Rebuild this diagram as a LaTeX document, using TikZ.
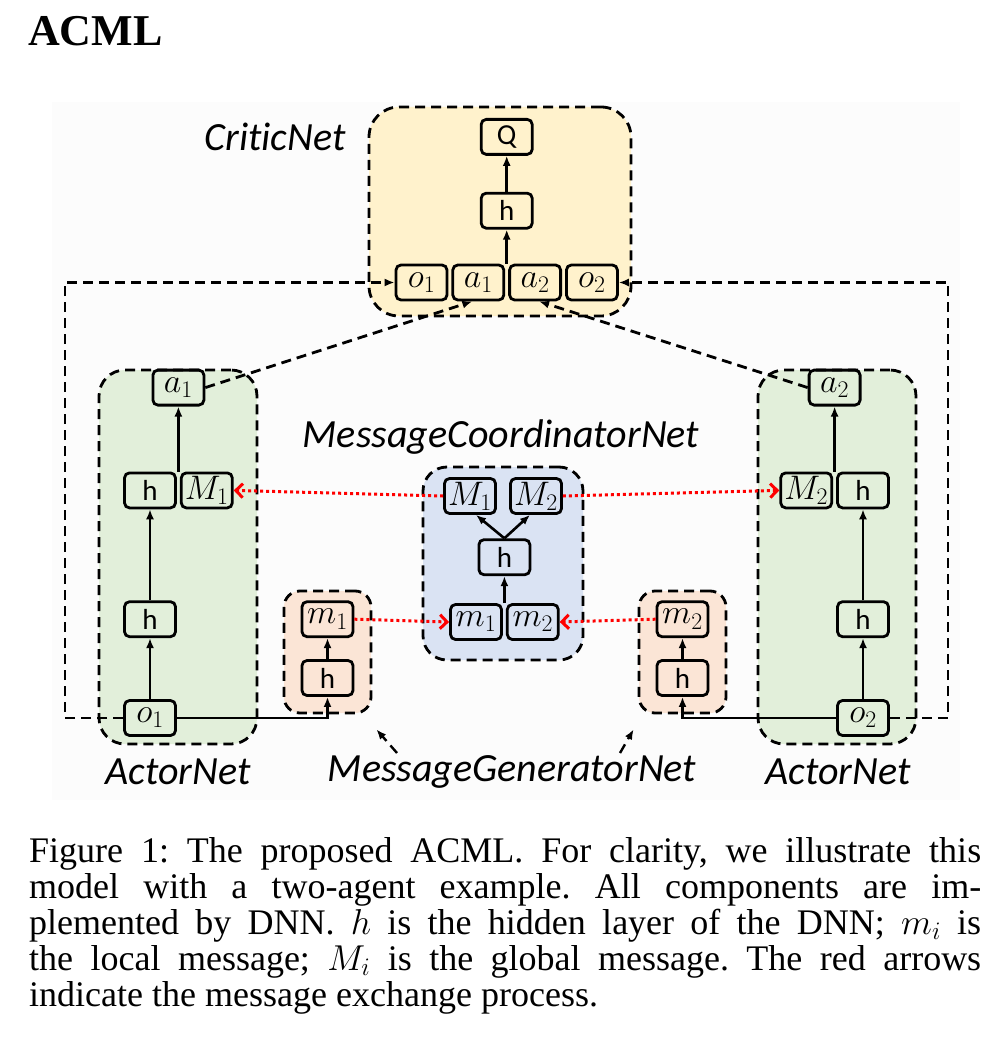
\RequirePackage{fix-cm}
\documentclass[tikz,border=0pt]{standalone}
\usepackage{fontspec}
\setmainfont{Liberation Serif}
\newfontfamily\netfont{Carlito}[Ligatures=NoCommon]
\usetikzlibrary{positioning, arrows.meta, calc}

\definecolor{criticfill}{RGB}{255,242,204}
\definecolor{actorfill}{RGB}{226,239,218}
\definecolor{genfill}{RGB}{251,229,214}
\definecolor{coordfill}{RGB}{218,227,243}

\begin{document}
\begin{tikzpicture}[
        x=1pt, y=-1pt,
        node distance=3pt and 3pt,
        >={Latex[length=10pt,width=8pt]},
        % Styles for the network parts
        unit/.style={rectangle, draw, line width=2.8pt, rounded corners=5pt, minimum width=51pt,
                minimum height=35pt, inner sep=0pt, font=\fontsize{29}{30}\selectfont\netfont},
        mathunit/.style={unit, font=\fontsize{34}{34}\selectfont},
        net/.style={rectangle, draw, dash pattern=on 10pt off 6pt, line width=2.8pt,
                rounded corners=26pt, inner sep=0pt},
        netlabel/.style={font=\fontsize{40}{40}\selectfont\netfont\itshape, inner sep=0pt},
        arrow/.style={->, line width=2.6pt},
        link/.style={->, line width=2.8pt, dash pattern=on 10pt off 6pt},
        msg/.style={-{Straight Barb[length=7pt,width=14pt]}, red, line width=3pt,
                dash pattern=on 3pt off 3pt},
    ]

    \useasboundingbox (0,0) rectangle (996,1048);
    \fill[black!1] (52,102) rectangle (960,800);

    % === TITLE ===
    \node[anchor=base west, inner sep=0pt, font=\fontsize{44}{44}\selectfont\bfseries] (title) at (28,46) {ACML};

    % === CONTAINERS ===
    \node[net, fill=criticfill, minimum width=262pt, minimum height=209pt, rounded corners=30pt] (critic) at (500,211.5) {};
    \node[net, fill=actorfill, minimum width=158pt, minimum height=374pt] (actor1) at (178,557) {};
    \node[net, fill=actorfill, minimum width=158pt, minimum height=374pt] (actor2) at (837,557) {};
    \node[net, fill=genfill, minimum width=87pt, minimum height=122pt, rounded corners=16pt] (gen1) at (327.5,652) {};
    \node[net, fill=genfill, minimum width=87pt, minimum height=122pt, rounded corners=16pt] (gen2) at (682.5,652) {};
    \node[net, fill=coordfill, minimum width=160pt, minimum height=193pt, rounded corners=24pt] (coord) at (503,563.5) {};

    % === CRITIC ===
    \node[mathunit] (co1) at (421.5,282.5) {$o_1$};
    \node[mathunit, right=of co1] (ca1) {$a_1$};
    \node[mathunit, right=of ca1] (ca2) {$a_2$};
    \node[mathunit, right=of ca2] (co2) {$o_2$};
    \coordinate (cjoin) at ($(ca1.north east)!.5!(ca2.north west)$);
    \node[unit, above=34pt of cjoin] (ch) {h};
    \node[unit, above=36pt of ch] (cq) {Q};

    % === ACTOR 1 ===
    \node[mathunit] (ao1) at (150,718) {$o_1$};
    \node[unit, above=61pt of ao1] (ah2) {h};
    \node[unit, above=91pt of ah2] (ah1) {h};
    \node[mathunit, right=of ah1] (aM1) {$M_1$};
    \coordinate (ajoin) at ($(ah1.north east)!.5!(aM1.north west)$);
    \node[mathunit, above=65pt of ajoin] (aa1) {$a_1$};

    % === ACTOR 2 ===
    \node[mathunit] (bo2) at (863,718) {$o_2$};
    \node[unit, above=61pt of bo2] (bh2) {h};
    \node[unit, above=91pt of bh2] (bh1) {h};
    \node[mathunit, left=of bh1] (bM2) {$M_2$};
    \coordinate (bjoin) at ($(bM2.north east)!.5!(bh1.north west)$);
    \node[mathunit, above=65pt of bjoin] (ba2) {$a_2$};

    % === MESSAGE GENERATORS ===
    \node[unit] (gh1) at (327.5,678) {h};
    \node[mathunit, above=21pt of gh1] (gm1) {$m_1$};
    \node[unit] (gh2) at (682.5,678) {h};
    \node[mathunit, above=21pt of gh2] (gm2) {$m_2$};

    % === MESSAGE COORDINATOR ===
    \node[mathunit] (mm1) at (476,622) {$m_1$};
    \node[mathunit, right=of mm1] (mm2) {$m_2$};
    \coordinate (mjoin) at ($(mm1.north east)!.5!(mm2.north west)$);
    \node[unit, above=27pt of mjoin] (mh) {h};
    \node[mathunit] (mM1) at (470,496) {$M_1$};
    \node[mathunit] (mM2) at (536,496) {$M_2$};

    % === LABELS ===
    \node[netlabel] (criticlab) at (275,137) {CriticNet};
    \node[netlabel] (coordlab) at (501,437) {MessageCoordinatorNet};
    \node[netlabel] (actorlab1) at (178,772) {ActorNet};
    \node[netlabel] (genlab) at (512,772) {MessageGeneratorNet};
    \node[netlabel] (actorlab2) at (838,772) {ActorNet};
    \coordinate (gtail1) at (397,753);
    \coordinate (gtail2) at (620,753);

    % === CONNECTIONS ===
    % inside the critic
    \draw[arrow] (cjoin) -- (ch.south);
    \draw[arrow] (ch.north) -- (cq.south);
    % inside the actors
    \draw[arrow] (ao1.north) -- (ah2.south);
    \draw[arrow] (ah2.north) -- (ah1.south);
    \draw[arrow] (ajoin) -- (aa1.south);
    \draw[arrow] (bo2.north) -- (bh2.south);
    \draw[arrow] (bh2.north) -- (bh1.south);
    \draw[arrow] (bjoin) -- (ba2.south);
    % observations to the message generators
    \draw[arrow] (ao1.east) -| (gh1.south);
    \draw[arrow] (bo2.west) -| (gh2.south);
    \draw[arrow] (gh1.north) -- (gm1.south);
    \draw[arrow] (gh2.north) -- (gm2.south);
    % inside the coordinator
    \draw[arrow] (mjoin) -- (mh.south);
    \draw[arrow] (mh.north) -- ([xshift=6pt]mM1.south);
    \draw[arrow] (mh.north) -- ([xshift=-6pt]mM2.south);

    % observations and actions into the critic
    \coordinate (loopL) at (65,282.5);
    \coordinate (loopR) at (948,282.5);
    \draw[link] (ao1.west) -| (loopL) -- (co1.west);
    \draw[link] (bo2.east) -| (loopR) -- (co2.east);
    \draw[link] (aa1.east) -- ([xshift=-6pt]ca1.south);
    \draw[link] (ba2.west) -- ([xshift=4pt]ca2.south);

    % message exchange (red)
    \draw[msg] (gm1.east) -- (mm1.west);
    \draw[msg] (gm2.west) -- (mm2.east);
    \draw[msg] (mM1.west) -- (aM1.east);
    \draw[msg] (mM2.east) -- (bM2.west);

    % pointers from the label
    \draw[link, line width=2.4pt] (gtail1) -- ($(gen1.south east)+(4,15)$);
    \draw[link, line width=2.4pt] (gtail2) -- ($(gen2.south west)+(-4,15)$);

    % === CAPTION ===
    \node[anchor=base west, inner sep=0pt, text width=952pt, align=justify,
        font=\fontsize{36}{36}\selectfont\frenchspacing] (caption) at (29,862) {Figure 1: The proposed ACML. For clarity, we illustrate this\linebreak
        model with a two-agent example. All components are im-\linebreak
        plemented by DNN. $h$ is the hidden layer of the DNN; $m_i$ is\linebreak
        the local message; $M_i$ is the global message. The red arrows\linebreak
        indicate the message exchange process.};

\end{tikzpicture}
\end{document}
